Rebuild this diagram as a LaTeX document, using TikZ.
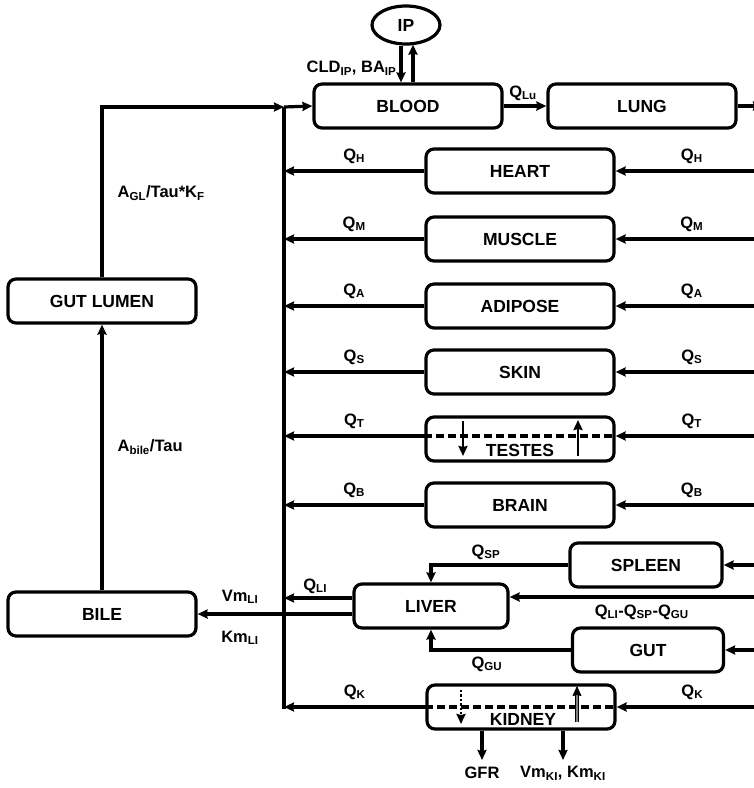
\documentclass[tikz,border=0pt]{standalone}
\usepackage{fontspec}
\setmainfont{Liberation Sans}
\usetikzlibrary{arrows.meta,shapes.geometric}

\newcommand{\lo}[1]{\textsubscript{#1}}

\begin{document}
\begin{tikzpicture}[x=1pt, y=-1pt, >={Stealth[length=10pt,width=9pt,inset=1pt]}, line width=3.2pt,
    organ/.style={draw, rounded corners=8pt, minimum width=188pt, minimum height=44pt,
                  inner sep=0pt, font=\fontsize{17.5}{19}\selectfont\bfseries},
    organtext/.style={inner sep=0pt, font=\fontsize{17.5}{19}\selectfont\bfseries},
    flow/.style={inner sep=2pt, font=\fontsize{16.5}{18}\selectfont\bfseries},
    membrane/.style={dash pattern=on 8pt off 4pt}]
    \useasboundingbox (0,0) rectangle (754,788);
    \def\rimX{754}

    % Bus on the left and its ends
    \coordinate (busTop) at (284,107);
    \coordinate (busBot) at (284,709);
    \draw (busTop) -- (busBot);

    % Blood, lung and the peritoneum
    \node[draw, ellipse, minimum width=68pt, minimum height=38pt, inner sep=0pt,
          font=\fontsize{17.5}{19}\selectfont\bfseries] (ip) at (406,25) {IP};
    \node[organ] (blood) at (408,106) {BLOOD};
    \node[organ] (lung) at (642,106) {LUNG};
    \coordinate (lungOut) at (763,106);
    \draw[->] ([xshift=-5pt]ip.south) -- ([xshift=-5pt]ip.south |- blood.north)
        node[flow, midway, left=1pt, yshift=-4pt] {CLD\lo{IP}, BA\lo{IP}};
    \draw[->] ([xshift=7pt]ip.south |- blood.north) -- ([xshift=7pt,yshift=1pt]ip.south);
    \draw[->] (busTop) -- (blood.west);
    \draw[->] (blood.east) -- (lung.west) node[flow, midway, above=2pt, xshift=-2pt] {Q\lo{Lu}};
    \draw[->] (lung.east) -- (lungOut);

    % Tissues in parallel
    \foreach \organ/\y/\q in {HEART/171/H, MUSCLE/239/M, ADIPOSE/306/A, SKIN/372/S, BRAIN/505/B} {
        \node[organ] (\organ) at (520,\y) {\organ};
        \draw[->] (\rimX,\y) -- (\organ.east) node[flow, midway, above=4pt, xshift=7pt] {Q\lo{\q}};
        \draw[->] (\organ.west) -- (\organ.west -| busTop) node[flow, midway, above=4pt] {Q\lo{\q}};
    }

    % Testes with the blood-testis barrier
    \node[organ] (TESTES) at (520,439) {};
    \node[organtext] (testesText) at (520,450) {TESTES};
    \draw[membrane] ([yshift=3pt]TESTES.west) -- ([yshift=3pt]TESTES.east);
    \draw[->, line width=2.4pt] ([xshift=-57pt,yshift=18pt]TESTES.center) -- ([xshift=-57pt,yshift=-17pt]TESTES.center);
    \draw[->, line width=2.4pt] ([xshift=58pt,yshift=-17pt]TESTES.center) -- ([xshift=58pt,yshift=19pt]TESTES.center);
    \draw[->] (\rimX,436) -- ([yshift=3pt]TESTES.east) node[flow, midway, above=4pt, xshift=7pt] {Q\lo{T}};
    \draw[->] ([yshift=3pt]TESTES.west) -- ([yshift=3pt]TESTES.west -| busTop) node[flow, midway, above=4pt] {Q\lo{T}};

    % Splanchnic organs
    \node[organ, minimum width=152pt] (SPLEEN) at (646,565) {SPLEEN};
    \node[organ, minimum width=154pt] (LIVER) at (431,606) {LIVER};
    \node[organ, minimum width=151pt] (GUT) at (648,650) {GUT};
    \draw[->] (\rimX,565) -- (SPLEEN.east);
    \draw[->] (\rimX,650) -- (GUT.east);
    \draw[->] (\rimX,597) -- ([yshift=9pt]LIVER.east)
        node[flow, midway, below=4pt, xshift=10pt] {Q\lo{LI}-Q\lo{SP}-Q\lo{GU}};
    \draw[->] (SPLEEN.west) -| (LIVER.north) node[flow, pos=0.3, above=2pt] {Q\lo{SP}};
    \draw[->] (GUT.west) -| (LIVER.south) node[flow, pos=0.3, below=3pt] {Q\lo{GU}};
    \draw[->] ([yshift=8pt]LIVER.west) -- ([yshift=8pt]LIVER.west -| busTop)
        node[flow, midway, above=1pt, xshift=-3pt] {Q\lo{LI}};

    % Biliary route
    \node[organ] (BILE) at (102,614) {BILE};
    \node[organ] (GUTLUMEN) at (102,301) {GUT LUMEN};
    \draw[->] ([yshift=-8pt]LIVER.west) -- (BILE.east);
    \node[flow] (vmLI) at (240,597) {Vm\lo{LI}};
    \node[flow] (kmLI) at (240,638) {Km\lo{LI}};
    \draw[->] (BILE.north) -- (GUTLUMEN.south);
    \node[flow, anchor=west] (bileRate) at (114,447) {A\lo{bile}/Tau};
    \draw[->] (GUTLUMEN.north) |- (busTop);
    \node[flow, anchor=west] (reabsRate) at (114,193) {A\lo{GL}/Tau*K\lo{F}};

    % Kidney with filtration and secretion
    \node[organ] (KIDNEY) at (521,707) {};
    \node[organtext] (kidneyText) at (523,719) {KIDNEY};
    \draw[membrane] (KIDNEY.west) -- (KIDNEY.east);
    \draw[->, line width=2.4pt, dotted] ([xshift=-60pt,yshift=17pt]KIDNEY.center) -- ([xshift=-60pt,yshift=-17pt]KIDNEY.center);
    \draw[->, line width=0.9pt, double=gray, double distance=1.6pt] ([xshift=56pt,yshift=-15pt]KIDNEY.center) -- ([xshift=56pt,yshift=21pt]KIDNEY.center);
    \draw[->] (\rimX,707) -- (KIDNEY.east) node[flow, midway, above=4pt, xshift=7pt] {Q\lo{K}};
    \draw[->] (KIDNEY.west) -- (KIDNEY.west -| busBot) node[flow, midway, above=4pt] {Q\lo{K}};
    \coordinate (gfrEnd) at (482,760);
    \coordinate (vmEnd) at (563,760);
    \draw[->] (KIDNEY.south -| gfrEnd) -- (gfrEnd) node[flow, below=3pt] {GFR};
    \draw[->] (KIDNEY.south -| vmEnd) -- (vmEnd) node[flow, below=3pt] {Vm\lo{KI}, Km\lo{KI}};
\end{tikzpicture}
\end{document}
